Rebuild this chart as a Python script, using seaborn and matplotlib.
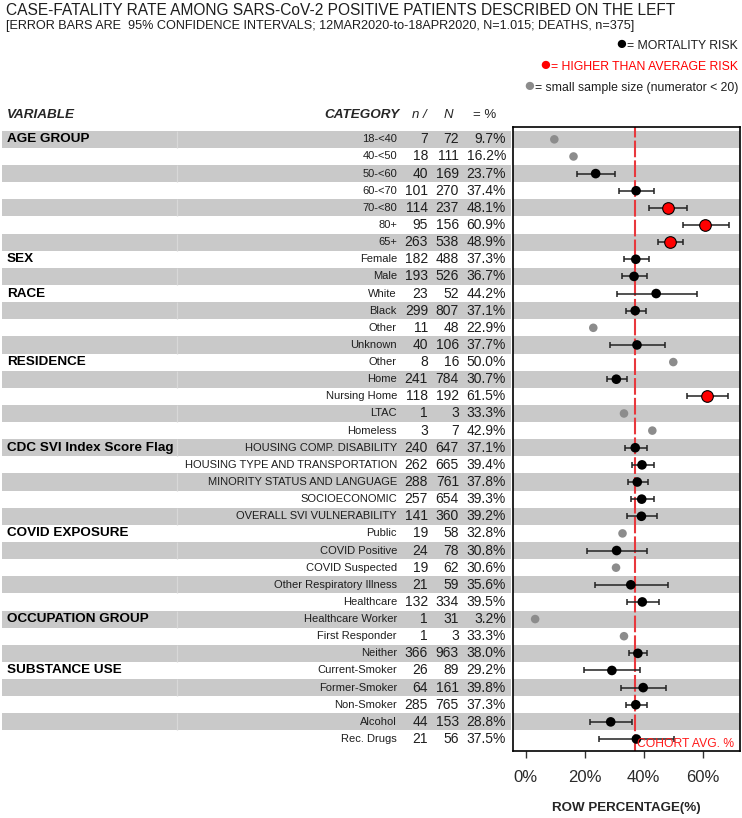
import numpy as np
import pandas as pd
import seaborn as sns
import matplotlib.pyplot as plt
from matplotlib.ticker import FuncFormatter

# ---- data ----
groups = ["AGE GROUP", "SEX", "RACE", "RESIDENCE", "CDC SVI Index Score Flag",
          "COVID EXPOSURE", "OCCUPATION GROUP", "SUBSTANCE USE"]
group_sizes = [7, 2, 4, 5, 5, 5, 3, 5]

categories = ["18-<40", "40-<50", "50-<60", "60-<70", "70-<80", "80+", "65+",
              "Female", "Male",
              "White", "Black", "Other", "Unknown",
              "Other", "Home", "Nursing Home", "LTAC", "Homeless",
              "HOUSING COMP. DISABILITY", "HOUSING TYPE AND TRANSPORTATION",
              "MINORITY STATUS AND LANGUAGE", "SOCIOECONOMIC", "OVERALL SVI VULNERABILITY",
              "Public", "COVID Positive", "COVID Suspected", "Other Respiratory Illness", "Healthcare",
              "Healthcare Worker", "First Responder", "Neither",
              "Current-Smoker", "Former-Smoker", "Non-Smoker", "Alcohol", "Rec. Drugs"]
n_deaths = [7, 18, 40, 101, 114, 95, 263, 182, 193, 23, 299, 11, 40, 8, 241, 118, 1, 3,
            240, 262, 288, 257, 141, 19, 24, 19, 21, 132, 1, 1, 366, 26, 64, 285, 44, 21]
n_total = [72, 111, 169, 270, 237, 156, 538, 488, 526, 52, 807, 48, 106, 16, 784, 192, 3, 7,
           647, 665, 761, 654, 360, 58, 78, 62, 59, 334, 31, 3, 963, 89, 161, 765, 153, 56]
pct = [9.7, 16.2, 23.7, 37.4, 48.1, 60.9, 48.9, 37.3, 36.7, 44.2, 37.1, 22.9, 37.7,
       50.0, 30.7, 61.5, 33.3, 42.9, 37.1, 39.4, 37.8, 39.3, 39.2, 32.8, 30.8, 30.6,
       35.6, 39.5, 3.2, 33.3, 38.0, 29.2, 39.8, 37.3, 28.8, 37.5]
nan = np.nan
ci_low = [nan, nan, 17.4, 31.7, 41.9, 53.3, 44.7, 33.2, 32.6, 30.8, 33.9, nan, 28.7,
          nan, 27.5, 54.7, nan, nan, 33.5, 35.9, 34.5, 35.7, 34.2, nan, 20.7, nan,
          23.6, 34.3, nan, nan, 35.1, 19.9, 32.3, 34.1, 21.9, 25.0]
ci_high = [nan, nan, 30.4, 43.5, 54.7, 68.9, 53.3, 41.8, 41.1, 57.9, 40.7, nan, 47.1,
           nan, 34.3, 68.6, nan, nan, 41.1, 43.5, 41.6, 43.3, 44.4, nan, 41.2, nan,
           48.1, 45.0, nan, nan, 41.2, 38.8, 47.6, 41.0, 36.1, 50.3]
cohort_avg = 36.9

df = pd.DataFrame({"category": categories, "n": n_deaths, "N": n_total, "pct": pct,
                   "lo": ci_low, "hi": ci_high})
df["row"] = np.arange(len(df))
df["kind"] = np.where(df["n"] < 20, "small",
                      np.where(df["lo"] > cohort_avg, "high", "normal"))

sns.set_style("white")
plt.rcParams["font.family"] = ["Liberation Sans", "DejaVu Sans"]

W, H = 742, 818
fig = plt.figure(figsize=(W / 100, H / 100), dpi=100)
bottom, height = 1 - 751 / H, 624 / H
ax = fig.add_axes([513 / W, bottom, 227 / W, height])
tax = fig.add_axes([0, bottom, 511 / W, height])
ylims = (35.7, -0.72)
band = "#c9c9c9"
txt = "#1e1e1e"

# ---- table on the left ----
tax.set_xlim(0, 511)
tax.set_ylim(*ylims)
tax.axis("off")
for i in df["row"][::2]:
    tax.axhspan(i - 0.5, i + 0.5, xmin=2 / 511, xmax=1, color=band, lw=0, zorder=0)
    tax.vlines(177, i - 0.5, i + 0.5, color="#d8d8d8", lw=0.9, zorder=1)

start = 0
for g, size in zip(groups, group_sizes):
    tax.text(7, start, g, ha="left", va="center", fontsize=9.7, fontweight="bold", color="black")
    start += size

for _, r in df.iterrows():
    y = r["row"]
    tax.text(397, y, r["category"], ha="right", va="center", fontsize=8, color=txt)
    tax.text(428, y, str(r["n"]), ha="right", va="center", fontsize=10, color=txt)
    tax.text(459, y, str(r["N"]), ha="right", va="center", fontsize=10, color=txt)
    tax.text(506, y, "%.1f%%" % r["pct"], ha="right", va="center", fontsize=10, color=txt)

hy = -1.43
tax.text(7, hy, "VARIABLE", ha="left", va="center", fontsize=9.7, fontweight="bold",
         fontstyle="italic", clip_on=False)
tax.text(400, hy, "CATEGORY", ha="right", va="center", fontsize=9.7, fontweight="bold",
         fontstyle="italic", clip_on=False)
tax.text(427, hy, "n /", ha="right", va="center", fontsize=9.5, fontstyle="italic", clip_on=False)
tax.text(448, hy, "N", ha="center", va="center", fontsize=9.5, fontstyle="italic", clip_on=False)
tax.text(473, hy, "= %", ha="left", va="center", fontsize=9.5, clip_on=False)

# ---- forest panel ----
for i in df["row"][::2]:
    ax.axhspan(i - 0.5, i + 0.5, color=band, lw=0, zorder=0)
ax.axvline(cohort_avg, color="#e8383d", lw=1.5, dashes=(8, 1.5), zorder=2)

ci = df[df["kind"] != "small"]
ax.errorbar(ci["pct"], ci["row"], xerr=[ci["pct"] - ci["lo"], ci["hi"] - ci["pct"]],
            fmt="none", ecolor="#222222", elinewidth=1.1, capsize=2.2, capthick=1.1, zorder=3)
sns.scatterplot(data=df[df["kind"] == "small"], x="pct", y="row", color="#8c8c8c",
                s=38, edgecolor="none", ax=ax, zorder=4)
sns.scatterplot(data=df[df["kind"] == "normal"], x="pct", y="row", color="black",
                s=48, edgecolor="none", ax=ax, zorder=4)
sns.scatterplot(data=df[df["kind"] == "high"], x="pct", y="row", color="#ff0000",
                s=70, edgecolor="black", linewidth=0.8, ax=ax, zorder=4)

ax.text(cohort_avg + 0.8, 35.3, "COHORT AVG. %", color="#ff1a1a", fontsize=8.7,
        ha="left", va="center", zorder=5)

ax.set_xlim(-4.3, 72.6)
ax.set_ylim(*ylims)
ax.set_xticks([0, 20, 40, 60])
ax.xaxis.set_major_formatter(FuncFormatter(lambda v, p: "%d%%" % v))
ax.set_yticks([])
ax.tick_params(axis="x", bottom=True, length=5, width=1, color="#333333",
               labelsize=12, labelcolor="#2a2a2a", pad=9)
ax.set_xlabel("ROW PERCENTAGE(%)", fontsize=9.6, fontweight="bold", labelpad=12)
ax.set_ylabel("")
for sp in ax.spines.values():
    sp.set_visible(True)
    sp.set_color("black")
    sp.set_linewidth(1.2)

# ---- titles and key ----
fig.text(6 / W, 1 - 15 / H, "CASE-FATALITY RATE AMONG SARS-CoV-2 POSITIVE PATIENTS DESCRIBED ON THE LEFT",
         fontsize=11.2, ha="left", va="baseline", color=txt)
fig.text(6 / W, 1 - 29.5 / H,
         "[ERROR BARS ARE  95% CONFIDENCE INTERVALS; 12MAR2020-to-18APR2020, N=1.015; DEATHS, n=375]",
         fontsize=9.05, ha="left", va="baseline", color=txt)

fig.canvas.draw()
rend = fig.canvas.get_renderer()
key = [("= MORTALITY RISK", "black", txt, 46),
       ("= HIGHER THAN AVERAGE RISK", "#ff0000", "#ff0000", 67),
       ("= small sample size (numerator < 20)", "#8c8c8c", txt, 88)]
for label, dot, tcol, ypx in key:
    t = fig.text(738 / W, 1 - ypx / H, label, fontsize=8.8, ha="right", va="center", color=tcol)
    bb = t.get_window_extent(renderer=rend)
    fig.text(bb.x0 / W, 1 - (ypx - 1.5) / H, "●", fontsize=14, ha="right", va="center", color=dot)

fig.savefig("out.png", dpi=100)
